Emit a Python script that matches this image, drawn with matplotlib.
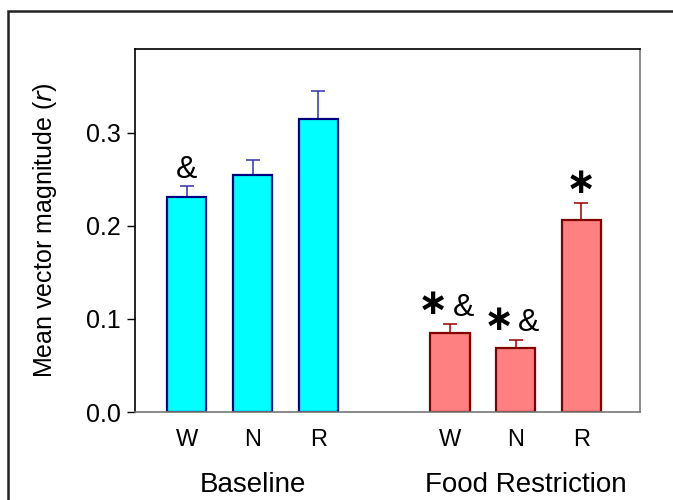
import numpy as np
import matplotlib.pyplot as plt
from matplotlib.patches import Rectangle

plt.rcParams['font.family'] = ['Liberation Sans', 'DejaVu Sans']

stages = ['W', 'N', 'R']
groups = ['Baseline', 'Food Restriction']
baseline_mean = [0.231, 0.255, 0.315]
baseline_sem = [0.012, 0.016, 0.030]
food_mean = [0.085, 0.069, 0.206]
food_sem = [0.009, 0.008, 0.018]
# significance marks: star = vs baseline, & = vs R
baseline_star = [False, False, False]
baseline_amp = [True, False, False]
food_star = [True, True, True]
food_amp = [True, True, False]

x_base = np.arange(3)
x_food = np.arange(3) + 4

fig = plt.figure(figsize=(6.73, 5.0), dpi=100)
ax = fig.add_axes([134.5/673, 1 - 412/500, (640 - 134.5)/673, (412 - 48.5)/500])

# outer frame, runs off the right and bottom edge
fig.patches.append(Rectangle((7.5/673, -0.1), 1.2, 1 - 10.5/500 + 0.1,
                             transform=fig.transFigure, fill=False,
                             edgecolor='#222222', linewidth=1.8, zorder=0))

ax.bar(x_base, baseline_mean, width=0.6, color='#00ffff', edgecolor='#000080',
       linewidth=1.6, zorder=2)
ax.errorbar(x_base, baseline_mean, yerr=[np.zeros(3), baseline_sem], fmt='none',
            ecolor='#3333aa', elinewidth=1.1, capsize=5, capthick=1.1, zorder=1)
ax.bar(x_food, food_mean, width=0.6, color='#ff8080', edgecolor='#800000',
       linewidth=1.6, zorder=2)
ax.errorbar(x_food, food_mean, yerr=[np.zeros(3), food_sem], fmt='none',
            ecolor='#990000', elinewidth=1.1, capsize=5, capthick=1.1, zorder=1)


def mark(x, top, star, amp):
    sk = dict(va='baseline', fontsize=26, fontweight='bold', family='DejaVu Sans')
    ak = dict(va='baseline', fontsize=23)
    ys = top + 0.0115
    ya = top + 0.0095
    if star and amp:
        ax.text(x - 0.03, ys, '\u2217', ha='right', **sk)
        ax.text(x + 0.04, ya, '&', ha='left', **ak)
    elif star:
        ax.text(x, ys, '\u2217', ha='center', **sk)
    elif amp:
        ax.text(x, ya - 0.001, '&', ha='center', **ak)


for x, m, s, st, am in zip(x_base, baseline_mean, baseline_sem, baseline_star, baseline_amp):
    mark(x, m + s, st, am)
for x, m, s, st, am in zip(x_food, food_mean, food_sem, food_star, food_amp):
    mark(x, m + s, st, am)

ax.set_xlim(-0.795, 6.893)
ax.set_ylim(0, 0.3905)
ax.set_yticks([0.0, 0.1, 0.2, 0.3])
ax.set_yticklabels(['0.0', '0.1', '0.2', '0.3'])
ax.set_xticks(list(x_base) + list(x_food))
ax.set_xticklabels(stages + stages)
ax.tick_params(axis='y', direction='out', length=6, width=1, labelsize=18, pad=4)
ax.tick_params(axis='x', length=0, labelsize=17, pad=12)

ax.spines['left'].set_color('black')
ax.spines['top'].set_color('black')
ax.spines['right'].set_color('#777777')
ax.spines['bottom'].set_color('#777777')
for sp in ax.spines.values():
    sp.set_linewidth(1.2)

ax.set_ylabel('Mean vector magnitude ($\\mathit{r}$)', fontsize=18)
ax.yaxis.set_label_coords(-0.15, 0.5)

for xc, g in zip([1, 5.15], groups):
    ax.text(xc, -0.2, g, transform=ax.get_xaxis_transform(), ha='center',
            va='center', fontsize=20)

fig.savefig('out.png', dpi=100)
